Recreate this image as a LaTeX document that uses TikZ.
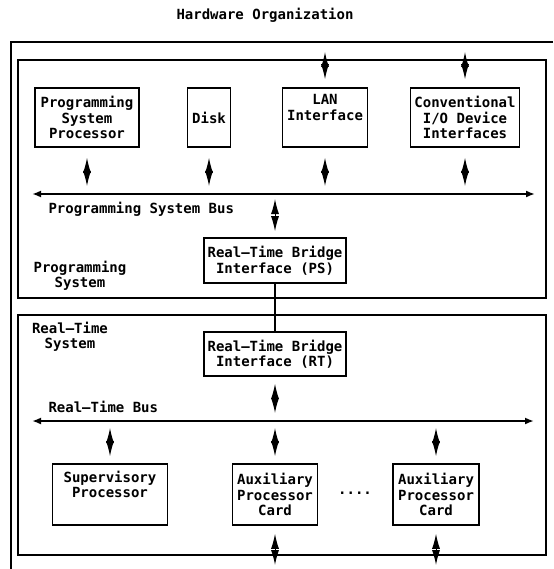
\documentclass[tikz,border=0pt]{standalone}
\usepackage{fontspec}
\setmonofont{DejaVu Sans Mono}
\usetikzlibrary{arrows.meta, positioning}

\begin{document}
\begin{tikzpicture}[x=1pt, y=-1pt,
  every node/.style={font=\ttfamily\bfseries\fontsize{14}{15.5}\selectfont},
  box/.style={draw, line width=1.6pt, align=center, inner sep=2pt},
  frame/.style={draw, line width=1.3pt, inner sep=0pt},
  bus/.style={line width=1.8pt, {Latex[length=9pt,width=7pt]}-{Latex[length=9pt,width=7pt]}},
  spindle/.style={line width=1pt, {Latex[length=15pt,width=8pt]}-{Latex[length=15pt,width=8pt]}}]
  \useasboundingbox (0,0) rectangle (553,569);
  \node (title) at (265,15) {Hardware Organization};
  \coordinate (outerR) at (553,42);
  \coordinate (outerTL) at (11,42);
  \coordinate (outerBL) at (11,569);
  \draw[line width=1.3pt] (outerR) -- (outerTL) -- (outerBL);
  \node[frame, minimum width=528pt, minimum height=238pt] (ps) at (282,179) {};
  \node[frame, minimum width=528pt, minimum height=240pt] (rt) at (282,435) {};

  \node[box, minimum width=104pt, minimum height=59pt] (psp) at (87,117.5) {Programming\\System\\Processor};
  \node[box, minimum width=43pt, minimum height=59pt] (disk) at (209,117.5) {Disk};
  \node[box, minimum width=85pt, minimum height=59pt] (lan) at (325,117.5) {LAN\\Interface\\\strut};
  \node[box, minimum width=109pt, minimum height=59pt] (conv) at (465,117.5) {Conventional\\I/O Device\\Interfaces};
  \foreach \n in {lan,conv}
    \draw[spindle, shorten <=8pt, shorten >=10pt] (\n.north) -- (\n.north |- outerTL);

  \coordinate (psbusL) at (32,194);
  \coordinate (psbusR) at (535,194);
  \draw[bus] (psbusL) -- (psbusR);
  \node[anchor=west] (psbuslabel) at (45,209) {Programming System Bus};
  \foreach \n in {psp,disk,lan,conv}
    \draw[spindle, shorten <=10pt, shorten >=8pt] (\n.south) -- (\n.south |- psbusL);

  \node[box, minimum width=142pt, minimum height=45pt] (psbr) at (275,260.5) {Real–Time Bridge\\Interface (PS)};
  \draw[spindle, shorten <=5pt, shorten >=6pt] (psbr.north |- psbusL) -- (psbr.north);
  \node[align=center] (pslabel) at (80,276) {Programming\\System};

  \node[box, minimum width=142pt, minimum height=44pt] (rtbr) at (275,354) {Real–Time Bridge\\Interface (RT)};
  \draw[line width=1.3pt] (psbr.south) -- (rtbr.north);
  \node[align=center] (rtlabel) at (70,337) {Real–Time\\System};

  \coordinate (rtbusL) at (32,421);
  \coordinate (rtbusR) at (534,421);
  \draw[bus] (rtbusL) -- (rtbusR);
  \node[anchor=west] (rtbuslabel) at (45,407) {Real–Time Bus};
  \draw[spindle, shorten <=7pt, shorten >=8pt] (rtbr.south) -- (rtbr.south |- rtbusL);

  \node[box, minimum width=115pt, minimum height=61pt] (sup) at (110,494.5) {Supervisory\\Processor\\\strut};
  \node[box, minimum width=85pt, minimum height=61pt] (aux1) at (275,494.5) {Auxiliary\\Processor\\Card};
  \node[box, minimum width=86pt, minimum height=61pt] (aux2) at (436,494.5) {Auxiliary\\Processor\\Card};
  \node (dots) at (355,493) {....};
  \foreach \n in {sup,aux1,aux2}
    \draw[spindle, shorten <=7pt, shorten >=7pt] (\n.north |- rtbusL) -- (\n.north);
  \foreach \n in {aux1,aux2}
    \draw[spindle, shorten <=8pt, shorten >=4pt] (\n.south) -- (\n.south |- outerBL);
\end{tikzpicture}
\end{document}
